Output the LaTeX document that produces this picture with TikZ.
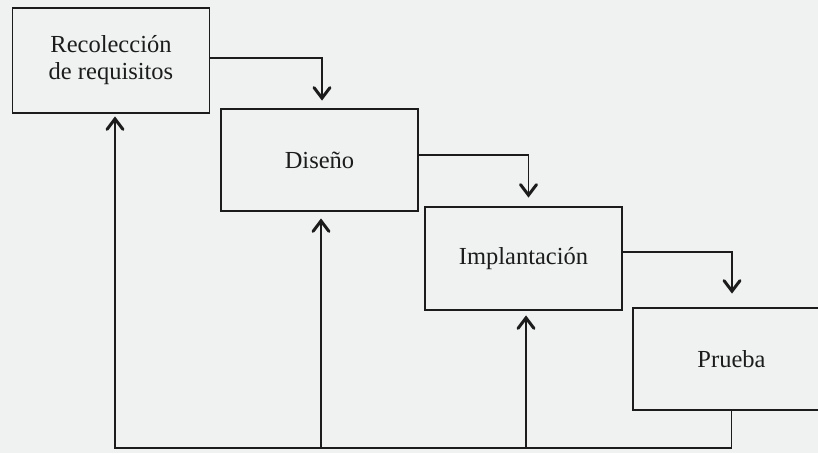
\documentclass[tikz,border=0pt]{standalone}
\usepackage{fontspec}
\setmainfont{Liberation Serif}
\definecolor{paper}{HTML}{EFF2F1}
\definecolor{ink}{HTML}{1C1C1C}
\begin{document}
\begin{tikzpicture}[x=1pt,y=-1pt,
  stage/.style={draw=ink, line width=1.8pt, fill=none, text=ink,
    minimum width=197pt, minimum height=103pt, inner sep=0pt,
    align=center, font=\fontsize{24.5}{27}\selectfont},
  plain/.style={draw=ink, line width=1.5pt},
  barb/.style={draw=ink, line width=3pt, line cap=round, line join=miter},
  downtip/.pic={\draw[barb] (-8,-10.5) -- (0,0) -- (8,-10.5);},
  uptip/.pic={\draw[barb] (-8,10.5) -- (0,0) -- (8,10.5);}]
  % page background and frame
  \fill[paper] (0,0) rectangle (818,453);
  \useasboundingbox (0,0) rectangle (818,453);
  \begin{scope}
    \clip (0,0) rectangle (818,453);
    % the four stages
    \node[stage, minimum height=105pt] (b1) at (111,60.5) {Recolección\\de requisitos};
    \node[stage, minimum height=102pt] (b2) at (319.5,160) {Diseño};
    \node[stage] (b3) at (523.5,258.5) {Implantación};
    \node[stage, minimum height=102pt] (b4) at (731.5,359) {Prueba};
    % forward flow: elbow connectors ending in open barbs above each next stage
    \coordinate (t12) at ([xshift=2.5pt,yshift=10pt]b2.north);
    \coordinate (t23) at ([xshift=5pt,yshift=11pt]b3.north);
    \coordinate (t34) at ([xshift=0.5pt,yshift=16pt]b4.north);
    \draw[plain] ([yshift=2.5pt]b1.east) -| (t12);
    \draw[plain] ([yshift=5pt]b2.east) -| (t23);
    \draw[plain] ([yshift=6.5pt]b3.east) -| (t34);
    \pic at (t12) {downtip};
    \pic at (t23) {downtip};
    \pic at (t34) {downtip};
    % feedback path along the bottom
    \coordinate (base) at (0,448);
    \coordinate (u1) at ([xshift=4pt,yshift=-5pt]b1.south);
    \coordinate (u2) at ([xshift=1.5pt,yshift=-9pt]b2.south);
    \coordinate (u3) at ([xshift=2.5pt,yshift=-7pt]b3.south);
    \draw[plain] (b4.south) -- (b4.south |- base) -- (u1 |- base) -- (u1);
    \draw[plain] (u2 |- base) -- (u2);
    \draw[plain] (u3 |- base) -- (u3);
    \pic at (u1) {uptip};
    \pic at (u2) {uptip};
    \pic at (u3) {uptip};
  \end{scope}
\end{tikzpicture}
\end{document}
